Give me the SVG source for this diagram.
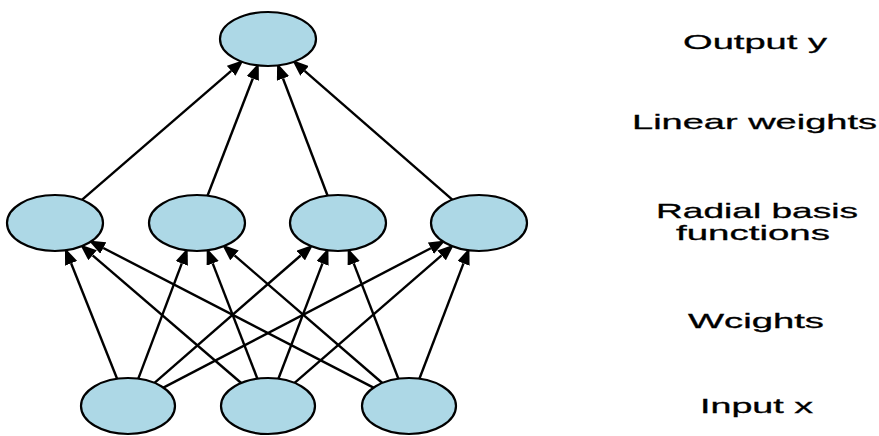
<svg xmlns="http://www.w3.org/2000/svg" width="879" height="436" viewBox="0 0 879 436">
<style>
.node ellipse{fill:#add8e6;stroke:#000;stroke-width:2.2}
.edges line{stroke:#000;stroke-width:2.4}
.lbl{font-family:"Liberation Sans",Arial,sans-serif;font-size:21px;fill:#000;stroke:#000;stroke-width:0.3}
</style>
<defs>
<marker id="arr" markerUnits="userSpaceOnUse" markerWidth="17" markerHeight="13" refX="0" refY="6.5" orient="auto">
<path d="M0,0 L16.5,6.5 L0,13 z" fill="#000"/>
</marker>
</defs>
<rect width="879" height="436" fill="#fff"/>
<g id="connectors" class="edges">
<line x1="81.9" y1="199.8" x2="231.2" y2="70.8" marker-end="url(#arr)"/>
<line x1="207.5" y1="195.7" x2="252.8" y2="78.5" marker-end="url(#arr)"/>
<line x1="327.6" y1="195.7" x2="283.0" y2="78.5" marker-end="url(#arr)"/>
<line x1="452.3" y1="199.7" x2="304.6" y2="70.9" marker-end="url(#arr)"/>
<line x1="117.1" y1="378.8" x2="71.1" y2="263.3" marker-end="url(#arr)"/>
<line x1="138.3" y1="378.7" x2="181.8" y2="263.4" marker-end="url(#arr)"/>
<line x1="154.5" y1="382.9" x2="300.7" y2="255.5" marker-end="url(#arr)"/>
<line x1="163.4" y1="387.6" x2="430.8" y2="248.2" marker-end="url(#arr)"/>
<line x1="241.2" y1="383.0" x2="92.6" y2="255.3" marker-end="url(#arr)"/>
<line x1="257.4" y1="378.7" x2="212.7" y2="263.4" marker-end="url(#arr)"/>
<line x1="278.4" y1="378.7" x2="322.5" y2="263.4" marker-end="url(#arr)"/>
<line x1="294.6" y1="382.9" x2="441.6" y2="255.4" marker-end="url(#arr)"/>
<line x1="373.5" y1="387.6" x2="103.3" y2="248.0" marker-end="url(#arr)"/>
<line x1="382.3" y1="383.0" x2="234.5" y2="255.4" marker-end="url(#arr)"/>
<line x1="398.4" y1="378.7" x2="353.7" y2="263.4" marker-end="url(#arr)"/>
<line x1="419.4" y1="378.7" x2="463.5" y2="263.4" marker-end="url(#arr)"/>
</g>
<g id="out" class="node"><ellipse cx="268" cy="39" rx="48" ry="27"/></g>
<g id="rbf1" class="node"><ellipse cx="55" cy="223" rx="48" ry="28"/></g>
<g id="rbf2" class="node"><ellipse cx="197" cy="223" rx="48" ry="28"/></g>
<g id="rbf3" class="node"><ellipse cx="338" cy="223" rx="48" ry="28"/></g>
<g id="rbf4" class="node"><ellipse cx="479" cy="223" rx="48" ry="28"/></g>
<g id="in1" class="node"><ellipse cx="128" cy="406" rx="47" ry="28"/></g>
<g id="in2" class="node"><ellipse cx="268" cy="406" rx="47" ry="28"/></g>
<g id="in3" class="node"><ellipse cx="409" cy="406" rx="47" ry="28"/></g>
<g id="labels">
<text class="lbl" x="683" y="49" textLength="144" lengthAdjust="spacingAndGlyphs">Output y</text>
<text class="lbl" x="632" y="129" textLength="245" lengthAdjust="spacingAndGlyphs">Linear weights</text>
<text class="lbl" x="656" y="218" textLength="202" lengthAdjust="spacingAndGlyphs">Radial basis</text>
<text class="lbl" x="676" y="240" textLength="154" lengthAdjust="spacingAndGlyphs">functions</text>
<text class="lbl" x="688" y="328" textLength="136" lengthAdjust="spacingAndGlyphs">Wcights</text>
<text class="lbl" x="700" y="413" textLength="113" lengthAdjust="spacingAndGlyphs">Input x</text>
</g>
</svg>
